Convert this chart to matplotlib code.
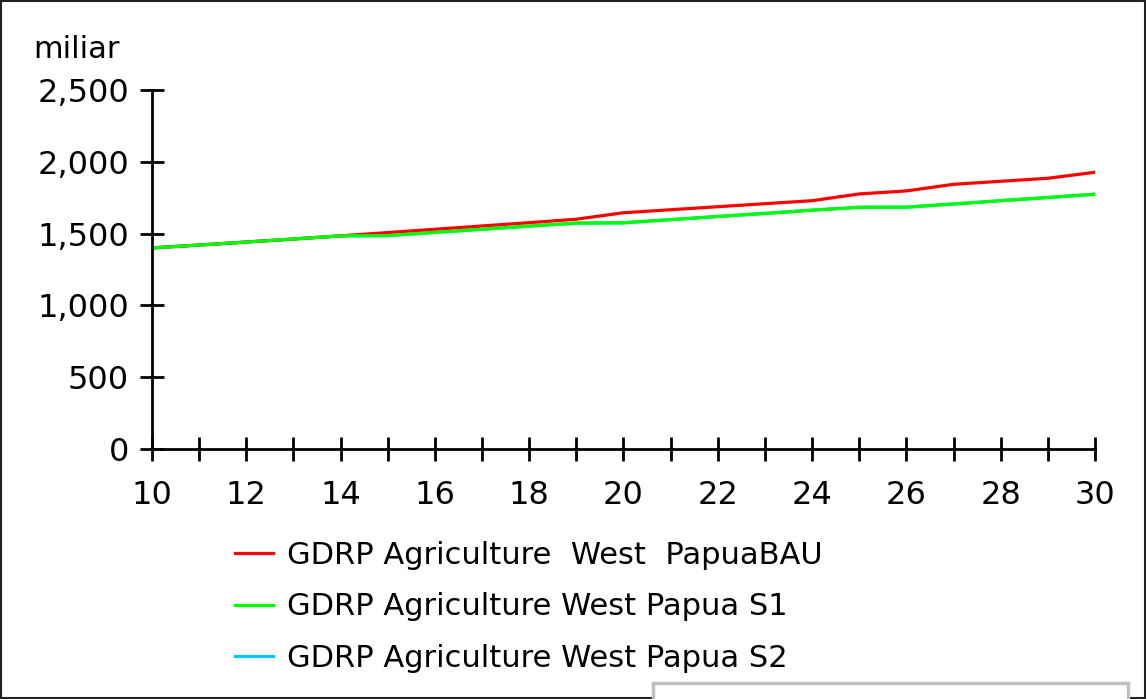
import numpy as np
import matplotlib
matplotlib.use('Agg')
import matplotlib.pyplot as plt
from matplotlib.patches import Rectangle
from matplotlib.ticker import MultipleLocator, FuncFormatter

# GDRP Agriculture West Papua (miliar), years 10..30
years = list(range(10, 31))
bau = [1400, 1420, 1441, 1462, 1484, 1507, 1530, 1553, 1576, 1600, 1645,
       1666, 1687, 1708, 1729, 1776, 1797, 1843, 1864, 1885, 1927]
s1 = [1400, 1420, 1441, 1462, 1484, 1486, 1508, 1530, 1552, 1573, 1575,
      1597, 1619, 1640, 1663, 1683, 1684, 1706, 1729, 1751, 1774]
s2 = [1400, 1420, 1441, 1462, 1484, 1486, 1508, 1530, 1552, 1573, 1575,
      1597, 1619, 1640, 1663, 1683, 1684, 1706, 1729, 1751, 1774]

labels = ['GDRP Agriculture  West  PapuaBAU',
          'GDRP Agriculture West Papua S1',
          'GDRP Agriculture West Papua S2']

fig = plt.figure(figsize=(11.46, 6.99), dpi=100)
ax = fig.add_axes([0.1326, 0.3577, 0.8229, 0.5136])

l3, = ax.plot(years, s2, color='#00c8ff', lw=2.3)
l1, = ax.plot(years, bau, color='#ff0000', lw=2.3)
l2, = ax.plot(years, s1, color='#00ff00', lw=2.3)

ax.set_xlim(10, 30)
ax.set_ylim(0, 2500)
ax.spines['top'].set_visible(False)
ax.spines['right'].set_visible(False)
for s in ['left', 'bottom']:
    ax.spines[s].set_linewidth(2)
ax.xaxis.set_major_locator(MultipleLocator(2))
ax.xaxis.set_minor_locator(MultipleLocator(1))
ax.yaxis.set_major_locator(MultipleLocator(500))
ax.yaxis.set_major_formatter(FuncFormatter(lambda v, p: '{:,.0f}'.format(v)))
ax.tick_params(which='both', direction='inout', length=17, width=2,
               labelsize=23)
ax.tick_params(axis='x', pad=14)
ax.tick_params(axis='y', pad=8)
ax.text(-0.126, 1.073, 'miliar', transform=ax.transAxes, fontsize=22,
        ha='left', va='bottom')

fig.legend([l1, l2, l3], labels, loc='upper left', bbox_to_anchor=(0.205, 0.2264),
           frameon=False, fontsize=22, handlelength=1.25, handletextpad=0.46,
           labelspacing=0.74, borderpad=0, borderaxespad=0)

# figure border and partial box at the bottom
fig.patches.append(Rectangle((0.001, 0.002), 0.998, 0.996, transform=fig.transFigure,
                             fill=False, edgecolor='#222222', lw=1.5))
fig.patches.append(Rectangle((653 / 1146, -0.05), 475 / 1146, 0.05 + 16 / 699,
                             transform=fig.transFigure, facecolor='white',
                             edgecolor='#c0c0c0', lw=2.5))

fig.savefig('out.png', dpi=100)
